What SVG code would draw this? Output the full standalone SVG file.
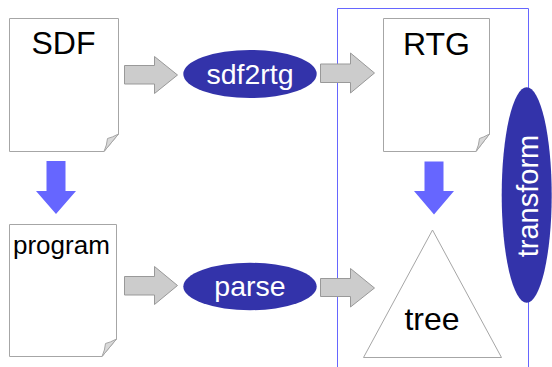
<svg xmlns="http://www.w3.org/2000/svg" width="552" height="367" viewBox="0 0 552 367">
<defs>
<style>
.doc{fill:#fff;stroke:#a6a6a6;stroke-width:1}
.fold{fill:#d9d9d9;stroke:#a6a6a6;stroke-width:1}
.t{font-family:"Liberation Sans",Arial,sans-serif;fill:#000}
.w{font-family:"Liberation Sans",Arial,sans-serif;fill:#fff;text-anchor:middle}
.op{fill:#3333aa}
.ga{fill:#cccccc;stroke:#999999;stroke-width:1}
.ba{fill:#6666ff}
.frame{fill:none;stroke:#6666ff;stroke-width:1}
</style>
</defs>
<rect width="552" height="367" fill="#fff"/>
<g id="container">
<polyline class="frame" points="337.5,367 337.5,8.5 528.5,8.5 528.5,367"/>
</g>
<g id="sdf">
<path class="doc" d="M9.5,18.5 H118.5 V134 L104,151.5 H9.5 Z"/>
<path class="fold" d="M104,151.5 L118.5,134 Q112,137.5 107.5,138.5 Q107,145 104,151.5 Z"/>
<text class="t" x="63.5" y="54" font-size="32" text-anchor="middle">SDF</text>
</g>
<g id="program">
<path class="doc" d="M9.5,224.5 H116.5 V339 L102,356.5 H9.5 Z"/>
<path class="fold" d="M102,356.5 L116.5,339 Q110,342.5 105.5,343.5 Q105,350 102,356.5 Z"/>
<text class="t" x="13" y="254" font-size="26">program</text>
</g>
<g id="rtg">
<path class="doc" d="M383.5,18.5 H489.5 V134 L476,151.5 H383.5 Z"/>
<path class="fold" d="M476,151.5 L489.5,134 Q483,137.5 479.5,138.5 Q479,145 476,151.5 Z"/>
<text class="t" x="436.5" y="55" font-size="32" text-anchor="middle">RTG</text>
</g>
<g id="tree">
<polygon class="doc" points="432.5,230 501.5,357.5 363.5,357.5"/>
<text class="t" x="432" y="330" font-size="32" text-anchor="middle">tree</text>
</g>
<g id="sdf2rtg">
<ellipse class="op" cx="250" cy="74" rx="66.7" ry="24"/>
<text class="w" x="250" y="84" font-size="28.5">sdf2rtg</text>
</g>
<g id="parse">
<ellipse class="op" cx="250" cy="286.5" rx="66.7" ry="23.7"/>
<text class="w" x="250" y="296" font-size="28.5">parse</text>
</g>
<g id="transform">
<ellipse class="op" cx="526.7" cy="195" rx="25" ry="107.7"/>
<text class="w" transform="translate(538,196) rotate(-90)" x="0" y="0" font-size="29">transform</text>
</g>
<g id="connectors">
<polygon class="ga" points="124.5,65.5 154.5,65.5 154.5,56.5 177.5,75 154.5,93.5 154.5,84 124.5,84"/>
<polygon class="ga" points="124.5,276.5 154.5,276.5 154.5,266.5 177.5,285.5 154.5,304.5 154.5,295 124.5,295"/>
<polygon class="ga" points="320.5,64 350.5,64 350.5,53 374.5,73 350.5,93 350.5,82.5 320.5,82.5"/>
<polygon class="ga" points="320.5,278.5 350.5,278.5 350.5,268.5 374.5,288 350.5,307 350.5,296.5 320.5,296.5"/>
<polygon class="ba" points="46.5,161 65.5,161 65.5,191 76,191 56,214 36,191 46.5,191"/>
<polygon class="ba" points="424.5,161.5 443.5,161.5 443.5,191 454,191 434,214.5 414,191 424.5,191"/>
</g>
</svg>
